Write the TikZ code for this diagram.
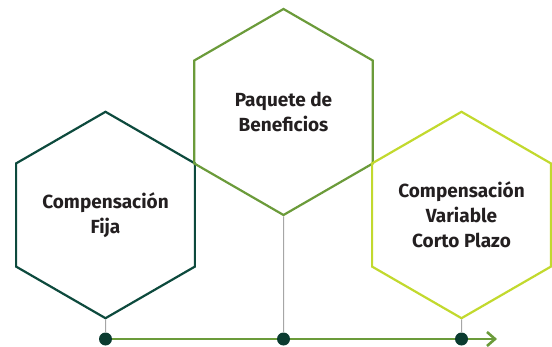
\documentclass[tikz,border=0pt]{standalone}
\usepackage{fontspec}
\setmainfont{Fira Sans}
\usepackage{tikz}
\usetikzlibrary{arrows.meta,positioning,shapes.geometric}
\definecolor{HexDark}{HTML}{0D4A3D}
\definecolor{HexMid}{HTML}{6B9B3A}
\definecolor{HexLight}{HTML}{C2D92E}
\definecolor{DotGreen}{HTML}{0B3B30}
\definecolor{StemGray}{HTML}{A6A6A6}
\definecolor{TextGray}{HTML}{231F20}

\begin{document}
\begin{tikzpicture}[x=1pt,y=1pt,>=Latex,
  hexbox/.style={regular polygon,regular polygon sides=6,shape border rotate=30,
    minimum size=206pt,inner sep=0pt,line width=2.2pt,align=center,
    font=\fontsize{19}{25}\selectfont\bfseries,text=TextGray},
  stem/.style={StemGray,line width=1pt},
  dot/.style={circle,fill=DotGreen,inner sep=0pt,minimum size=13pt},
  timeline/.style={HexMid,line width=2.6pt}]
  \useasboundingbox (0,0) rectangle (552,346);

  \node[hexbox,draw=HexDark] (fija) at (105.5,131) {Compensación\\Fija};
  \node[hexbox,draw=HexMid] (benef) at (283.5,234) {Paquete de\\Beneficios};
  \node[hexbox,draw=HexLight] (variable) at (461.5,131)
      {Compensación\\Variable\\Corto Plazo};

  \coordinate (tip) at (497,7);
  \draw[timeline,-{Straight Barb[length=8pt,width=14pt]}] (105.5,7) -- (tip);

  % stems hang from the lower corner of each hexagon
  \node[dot] (dfija) at (105.5,7) {};
  \node[dot] (dbenef) at (283.5,7) {};
  \node[dot] (dvariable) at (461.5,7) {};
  \draw[stem] (fija.south) -- (dfija);
  \draw[stem] (benef.south) -- (dbenef);
  \draw[stem] (variable.south) -- (dvariable);
\end{tikzpicture}
\end{document}
